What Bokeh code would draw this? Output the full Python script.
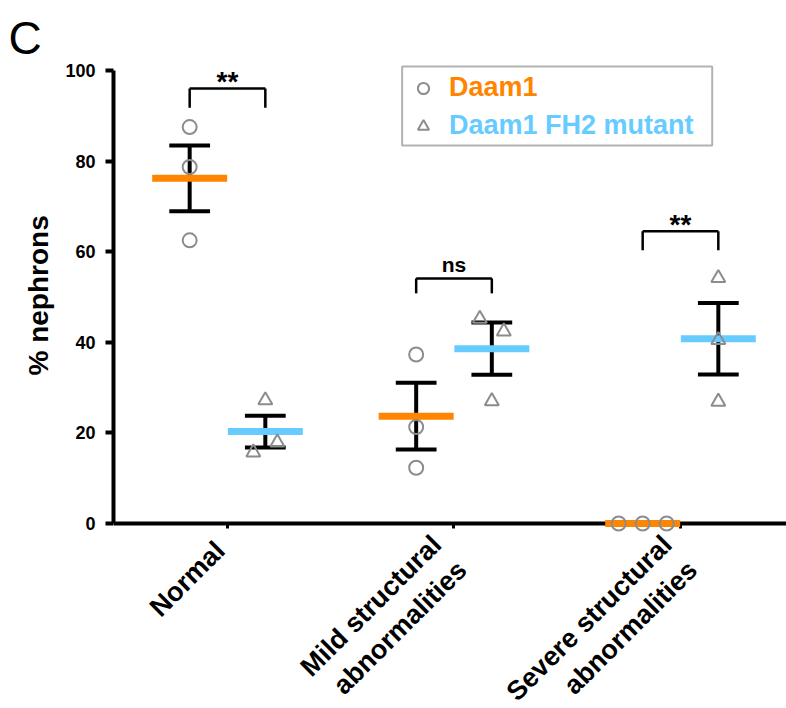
from math import pi
from bokeh.plotting import figure
from bokeh.models import (Range1d, FixedTicker, Label, Legend, LegendItem,
                          BoxAnnotation, Title)
from bokeh.embed import file_html
from bokeh.resources import INLINE

# ---------------- data ----------------
categories = ["Normal", "Mild structural\nabnormalities", "Severe structural\nabnormalities"]
series_names = ["Daam1", "Daam1 FH2 mutant"]
daam1_points = [[87.5, 78.7, 62.5], [37.3, 21.3, 12.3], [0.0, 0.0, 0.0]]
fh2_points = [[15.7, 27.2, 17.9], [45.2, 27.0, 42.4], [54.2, 40.5, 26.9]]
daam1_mean = [76.2, 23.7, 0.0]
daam1_sem = [7.25, 7.35, 0.0]
fh2_mean = [20.3, 38.6, 40.8]
fh2_sem = [3.5, 5.75, 7.9]
significance = ["**", "ns", "**"]
bracket_top = [96.0, 54.1, 64.5]
bracket_end = [91.8, 50.8, 60.3]
y_ticks = [0, 20, 40, 60, 80, 100]
panel_letter = "C"
y_title = "% nephrons"

# ---------------- layout / style ----------------
ORANGE = "#FF8500"
BLUE = "#66CCFF"
GRAY = "#8C8C8C"
FONT = "Liberation Sans"
GROUP_OFF = 0.167
MEAN_W = 0.331
CAP_HALF = 0.09
daam1_jitter = [[0, 0, 0], [0, 0, 0], [-0.106, 0, 0.106]]
fh2_jitter = [[-0.053, 0, 0.053], [-0.053, 0, 0.053], [0, 0, 0]]
sig_offset = [-7, -14, -7]
sig_size = ["28px", "21px", "28px"]
label_offsets = [(-18, -12), (-28, -6), (-24, -6)]
LEG_BOX = dict(left=1.771, right=3.140, top=100.88, bottom=83.44)

W, H = 786, 708
p = figure(width=W, height=H, output_backend="svg", toolbar_location=None,
           x_range=Range1d(0.4967, 3.468), y_range=Range1d(-39.07, 101.32),
           min_border_left=113, min_border_right=0, min_border_top=64,
           min_border_bottom=8)
p.grid.visible = False
p.outline_line_color = None
p.background_fill_color = "white"
p.border_fill_color = "white"

pos = [i + 1 for i in range(len(categories))]
x_d = [c - GROUP_OFF for c in pos]
x_f = [c + GROUP_OFF for c in pos]

# error bars (mean +/- SEM)
for xs, m, s in [(x_d, daam1_mean, daam1_sem), (x_f, fh2_mean, fh2_sem)]:
    lo = [a - b for a, b in zip(m, s)]
    hi = [a + b for a, b in zip(m, s)]
    p.segment(x0=xs, y0=lo, x1=xs, y1=hi, line_color="black", line_width=4)
    p.segment(x0=[x - CAP_HALF for x in xs], y0=hi, x1=[x + CAP_HALF for x in xs], y1=hi,
              line_color="black", line_width=4)
    p.segment(x0=[x - CAP_HALF for x in xs], y0=lo, x1=[x + CAP_HALF for x in xs], y1=lo,
              line_color="black", line_width=4)

# mean bars
p.rect(x=x_d, y=daam1_mean, width=MEAN_W, height=7, height_units="screen",
       fill_color=ORANGE, line_color=None, level="overlay")
p.rect(x=x_f, y=fh2_mean, width=MEAN_W, height=7, height_units="screen",
       fill_color=BLUE, line_color=None, level="overlay")

# individual points
dx, dy, fx, fy = [], [], [], []
for gi in range(len(categories)):
    for v, j in zip(daam1_points[gi], daam1_jitter[gi]):
        dx.append(x_d[gi] + j); dy.append(v)
    for v, j in zip(fh2_points[gi], fh2_jitter[gi]):
        fx.append(x_f[gi] + j); fy.append(v)
r_c = p.scatter(x=dx, y=dy, marker="circle", size=14, fill_color=None,
                line_color=GRAY, line_width=2, level="overlay")
r_t = p.scatter(x=fx, y=fy, marker="triangle", size=14, fill_color=None,
                line_color=GRAY, line_width=2, level="overlay")

# significance brackets
p.segment(x0=x_d, y0=bracket_top, x1=x_f, y1=bracket_top, line_color="black", line_width=2.5)
p.segment(x0=x_d, y0=bracket_end, x1=x_d, y1=bracket_top, line_color="black", line_width=2.5)
p.segment(x0=x_f, y0=bracket_end, x1=x_f, y1=bracket_top, line_color="black", line_width=2.5)
p.text(x=pos, y=bracket_top, text=significance, text_align="center",
       text_baseline="alphabetic", y_offset=sig_offset,
       text_font_size=sig_size, text_font_style="bold",
       text_font={"value": FONT}, text_color="black")

# axes
yax = p.yaxis[0]
yax.ticker = FixedTicker(ticks=y_ticks)
yax.bounds = (y_ticks[0], y_ticks[-1])
yax.axis_line_width = 4
yax.major_tick_line_width = 4
yax.major_tick_out = 8
yax.major_tick_in = 0
yax.minor_tick_line_color = None
yax.major_label_text_font = FONT
yax.major_label_text_font_style = "bold"
yax.major_label_text_font_size = "18px"
yax.major_label_text_color = "black"
yax.major_label_standoff = 10

xax = p.xaxis[0]
xax.ticker = FixedTicker(ticks=pos)
xax.fixed_location = 0
xax.major_label_overrides = {c: "" for c in pos}
xax.major_label_standoff = 0
xax.axis_line_width = 4
xax.major_tick_line_width = 3
xax.major_tick_out = 5
xax.major_tick_in = 0
xax.minor_tick_line_color = None

# y axis title (placed along the 0-100 span)
p.add_layout(Title(text=y_title, align="left", offset=325, standoff=17,
                   text_font=FONT, text_font_style="bold", text_font_size="28px",
                   text_color="black"), "left")

# category labels
for c, cat, (ox, oy) in zip(pos, categories, label_offsets):
    p.add_layout(Label(x=c, y=0, x_offset=ox, y_offset=oy, text=cat, angle=pi / 4,
                       text_align="right", text_baseline="top", text_font=FONT,
                       text_font_style="bold", text_font_size="27px",
                       text_line_height=1.2, text_color="black"))

# legend
p.add_layout(BoxAnnotation(**LEG_BOX, fill_color="white", fill_alpha=1.0,
                           line_color="black", line_width=2))
for rend, name, col, vy in [(r_c, series_names[0], ORANGE, 597), (r_t, series_names[1], BLUE, 559)]:
    lg = Legend(items=[LegendItem(label=name, renderers=[rend])], location=(296, vy),
                border_line_color=None, background_fill_alpha=0, padding=0, margin=0,
                glyph_width=28, glyph_height=30, label_height=30, label_standoff=12,
                spacing=0, label_text_font=FONT, label_text_font_style="bold",
                label_text_font_size="27px", label_text_color=col)
    p.add_layout(lg)

# panel letter
p.title.text = panel_letter
p.title.text_font = FONT
p.title.text_font_size = "46px"
p.title.text_font_style = "normal"
p.title.text_color = "black"
p.title.align = "left"
p.title.vertical_align = "middle"
p.title.standoff = 0
p.title.offset = -105

open("out.html", "w").write(file_html(p, INLINE))
